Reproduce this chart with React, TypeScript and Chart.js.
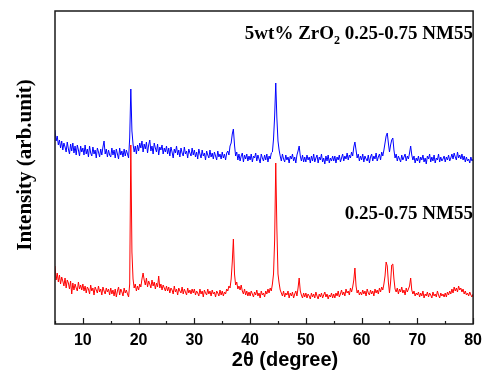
import React, { useEffect, useRef } from "react";
import { Chart, registerables } from "chart.js";

Chart.register(...registerables);

// 2θ sampling grid (degrees)
const X_START = 5;
const X_STEP = 0.2;
const X_MIN = 5;
const X_MAX = 80;
const xTickLabels = [10, 20, 30, 40, 50, 60, 70, 80];

const blueLabel = "5wt% ZrO2 0.25-0.75 NM55";
const redLabel = "0.25-0.75 NM55";

// Intensity (arb. unit), one value every 0.2° from 5.0° to 80.0°
const blueIntensity = [
  194,183,188,179,184,176,183,174,181,177,172,182,175,170,180,173,181,171,178,169,179,174,168,178,172,
  176,169,179,170,175,167,178,171,168,177,170,174,166,176,172,167,175,169,177,183,170,175,167,174,169,
  167,176,169,174,166,175,170,165,176,169,173,167,175,168,174,170,166,186,235,193,180,172,178,170,179,
  173,181,176,183,172,180,175,182,171,179,184,173,178,170,181,176,172,180,169,177,174,179,170,176,172,
  178,170,176,168,177,172,166,175,171,178,169,174,167,176,171,168,177,170,173,166,175,171,168,176,169,
  174,167,172,165,175,170,166,174,168,171,164,173,169,166,174,167,171,165,172,168,164,173,167,170,165,
  172,166,170,164,171,173,169,178,181,190,195,179,168,172,164,170,163,168,171,162,169,165,170,163,168,
  164,170,162,168,166,171,163,169,165,161,170,166,163,169,164,170,162,168,165,171,172,185,208,241,206,
  183,174,168,163,170,165,162,169,164,167,161,168,165,170,163,167,161,169,173,178,168,163,169,162,167,
  162,169,164,167,161,168,163,170,162,166,169,161,167,164,170,162,166,160,168,163,169,161,166,163,168,
  163,168,161,167,164,169,162,166,170,163,168,165,171,164,169,166,172,168,177,182,174,166,170,163,168,
  164,170,162,168,165,163,169,161,167,170,163,168,165,171,163,167,170,164,172,168,174,181,188,191,181,
  172,179,184,186,174,166,170,163,168,165,162,169,164,167,170,163,168,165,171,178,169,164,168,161,166,
  163,168,161,167,164,169,162,166,160,168,165,170,162,167,163,169,161,166,164,170,162,167,163,165,168,
  162,167,164,169,163,166,170,165,171,167,164,172,166,169,165,170,164,168,162,167,163,165,161,167,163,
  165,
];

const redIntensity = [
  58,44,51,42,49,40,47,43,38,46,36,44,41,35,43,30,41,34,40,36,33,42,35,39,34,
  40,33,38,31,37,35,30,39,33,36,29,37,34,31,38,32,35,29,37,33,30,36,32,35,29,
  36,30,34,28,35,27,33,37,29,35,32,28,36,31,34,30,27,40,179,72,45,36,40,33,38,
  34,40,37,45,51,44,39,46,37,43,40,36,44,38,42,35,41,37,48,36,40,34,39,36,33,
  38,33,37,31,36,34,30,38,32,35,29,36,33,31,37,30,35,32,29,36,31,34,30,35,31,
  35,29,33,31,28,35,30,33,27,34,31,29,35,30,33,28,34,30,32,27,33,31,28,34,29,
  33,28,32,30,35,33,38,36,45,62,85,50,39,42,35,38,34,39,33,30,35,29,33,28,32,
  28,33,30,27,32,29,34,28,31,26,33,29,31,27,33,30,35,31,36,33,40,50,84,161,96,
  50,41,34,31,28,33,27,31,29,33,26,31,28,32,26,30,33,28,36,46,33,29,26,31,27,
  31,26,30,28,25,31,27,30,26,32,28,25,30,27,31,26,29,32,27,30,25,29,27,31,26,
  30,26,31,28,33,27,30,34,29,32,28,35,31,33,29,36,32,37,44,56,38,31,34,29,32,
  29,34,30,33,28,35,31,29,34,30,33,28,35,31,34,30,36,32,37,34,40,48,62,58,42,
  31,42,59,60,45,35,32,36,30,35,32,37,31,34,29,36,32,35,38,46,34,30,33,28,31,
  29,32,27,31,28,33,26,30,28,32,27,31,29,26,32,28,30,27,33,29,26,31,28,30,27,
  31,27,32,29,33,30,35,31,37,33,36,32,38,34,36,32,35,30,33,29,31,28,32,29,27,
  30,
];

const Y_MIN = 0;
const Y_MAX = 313;

const toPoints = (arr: number[]) =>
  arr.map((y, i) => ({ x: Math.round((X_START + i * X_STEP) * 10) / 10, y }));

const SERIF = '"Liberation Serif", "Times New Roman", Times, serif';
const SANS = '"Liberation Sans", Arial, Helvetica, sans-serif';

const decorPlugin = {
  id: "decor",
  afterDraw(chart: any) {
    const { ctx, chartArea } = chart;
    const xs = chart.scales.x;
    const { left, right, top, bottom } = chartArea;
    ctx.save();
    // frame
    ctx.strokeStyle = "#1a1a1a";
    ctx.lineWidth = 1.5;
    ctx.strokeRect(left, top, right - left, bottom - top);
    // inward ticks
    ctx.lineWidth = 1.2;
    for (let v = X_MIN; v <= X_MAX; v += 5) {
      const px = Math.round(xs.getPixelForValue(v)) + 0.5;
      const len = xTickLabels.includes(v) ? 6 : 3;
      ctx.beginPath();
      ctx.moveTo(px, bottom);
      ctx.lineTo(px, bottom - len);
      ctx.stroke();
    }
    ctx.fillStyle = "#000";
    // x title
    ctx.font = `bold 20px ${SANS}`;
    ctx.textAlign = "center";
    ctx.textBaseline = "alphabetic";
    ctx.fillText("2\u03B8 (degree)", 285, 366);
    // y title
    ctx.save();
    ctx.translate(26, 165);
    ctx.rotate(-Math.PI / 2);
    ctx.font = `bold 21px ${SERIF}`;
    ctx.textBaseline = "middle";
    ctx.textAlign = "center";
    ctx.fillText("Intensity (arb.unit)", 0, 0);
    ctx.restore();
    // annotations
    const rx = 473;
    ctx.textAlign = "right";
    ctx.textBaseline = "alphabetic";
    ctx.font = `bold 19px ${SERIF}`;
    const tail = " 0.25-0.75 NM55";
    ctx.fillText(tail, rx, 39);
    const wTail = ctx.measureText(tail).width;
    ctx.font = `bold 12px ${SERIF}`;
    ctx.fillText("2", rx - wTail, 44);
    const wSub = ctx.measureText("2").width;
    ctx.font = `bold 19px ${SERIF}`;
    ctx.fillText("5wt% ZrO", rx - wTail - wSub, 39);
    ctx.fillText(redLabel, rx, 219);
    ctx.restore();
  },
};

export default function App() {
  const ref = useRef<HTMLCanvasElement>(null);
  useEffect(() => {
    if (!ref.current) return;
    const chart = new Chart(ref.current, {
      type: "line",
      data: {
        datasets: [
          {
            label: blueLabel,
            data: toPoints(blueIntensity),
            borderColor: "#0000ff",
            borderWidth: 1,
            pointRadius: 0,
            tension: 0,
          },
          {
            label: redLabel,
            data: toPoints(redIntensity),
            borderColor: "#ff0000",
            borderWidth: 1,
            pointRadius: 0,
            tension: 0,
          },
        ],
      },
      options: {
        animation: false,
        responsive: false,
        layout: { padding: { left: 55, right: 9, top: 11, bottom: 0 } },
        plugins: { legend: { display: false }, tooltip: { enabled: false } },
        scales: {
          x: {
            type: "linear",
            min: X_MIN,
            max: X_MAX,
            grid: { display: false, drawTicks: false },
            border: { display: false },
            ticks: {
              stepSize: 5,
              autoSkip: false,
              maxRotation: 0,
              padding: 7,
              color: "#000",
              font: { family: SANS, size: 16, weight: "bold" },
              callback: (v: any) => (xTickLabels.includes(Number(v)) ? String(v) : ""),
            },
            afterFit: (s: any) => {
              s.height = 49;
            },
          },
          y: { display: false, min: Y_MIN, max: Y_MAX },
        },
      },
      plugins: [decorPlugin],
    });
    return () => chart.destroy();
  }, []);
  return (
    <div style={{ position: "fixed", left: 0, top: 0, width: 489, height: 373, background: "#fff" }}>
      <canvas ref={ref} width={489} height={373} style={{ display: "block", width: 489, height: 373 }} />
    </div>
  );
}
